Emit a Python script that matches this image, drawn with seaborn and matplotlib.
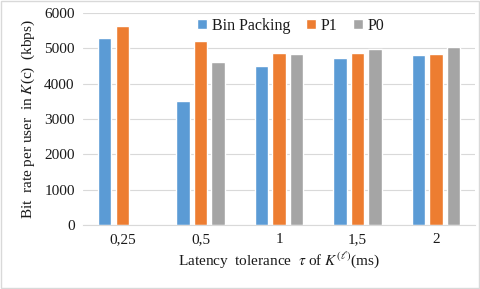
import pandas as pd
import seaborn as sns
import matplotlib.pyplot as plt
import numpy as np

# values
tolerances = ['0,25', '0,5', '1', '1,5', '2']
bin_packing = [5300, 3520, 4500, 4730, 4810]
p1 = [5630, 5210, 4870, 4870, 4840]
p0 = [np.nan, 4610, 4840, 4980, 5040]
series_names = ['Bin Packing', 'P1', 'P0']
colors = ['#5B9BD5', '#ED7D31', '#A5A5A5']

df = pd.DataFrame({'tol': tolerances, 'Bin Packing': bin_packing, 'P1': p1, 'P0': p0})
df = df.melt(id_vars='tol', var_name='method', value_name='rate')

sns.set_style('white')
plt.rcParams['font.family'] = ['Liberation Serif', 'DejaVu Serif']
plt.rcParams['mathtext.fontset'] = 'stix'

fig, ax = plt.subplots(figsize=(4.8, 2.89), dpi=100)
fig.subplots_adjust(left=0.173, right=0.99, top=0.955, bottom=0.221)

sns.barplot(data=df, x='tol', y='rate', hue='method', hue_order=series_names,
            palette=colors, width=0.67, gap=0.23, saturation=1, ax=ax)

ax.set_ylim(0, 6000)
ax.set_yticks(range(0, 6001, 1000))
ax.yaxis.grid(True, color='#D9D9D9', linewidth=0.8)
ax.set_axisbelow(True)
for s in ['top', 'right', 'left']:
    ax.spines[s].set_visible(False)
ax.spines['bottom'].set_color('#D9D9D9')
ax.tick_params(axis='both', length=0, labelsize=11, colors='#1a1a1a', pad=6)

ax.set_xlabel(r'Latency  tolerance  $\tau$ of $K^{(\ell)}$(ms)', fontsize=11, color='#1a1a1a', labelpad=3)
ax.set_ylabel(r'Bit  rate per user  in $K$(c)  (kbps)', fontsize=11, color='#1a1a1a', labelpad=5)

leg = ax.legend(loc='upper center', bbox_to_anchor=(0.53, 1.045), ncol=3, frameon=False,
                fontsize=11.5, handlelength=0.6, handleheight=0.6, columnspacing=1.0,
                handletextpad=0.3, labelcolor='#1a1a1a')

# light border round the whole chart
fig.patches.append(plt.Rectangle((0.002, 0.003), 0.996, 0.994, transform=fig.transFigure,
                                 fill=False, edgecolor='#D9D9D9', linewidth=1))

fig.savefig('out.png', dpi=100)
